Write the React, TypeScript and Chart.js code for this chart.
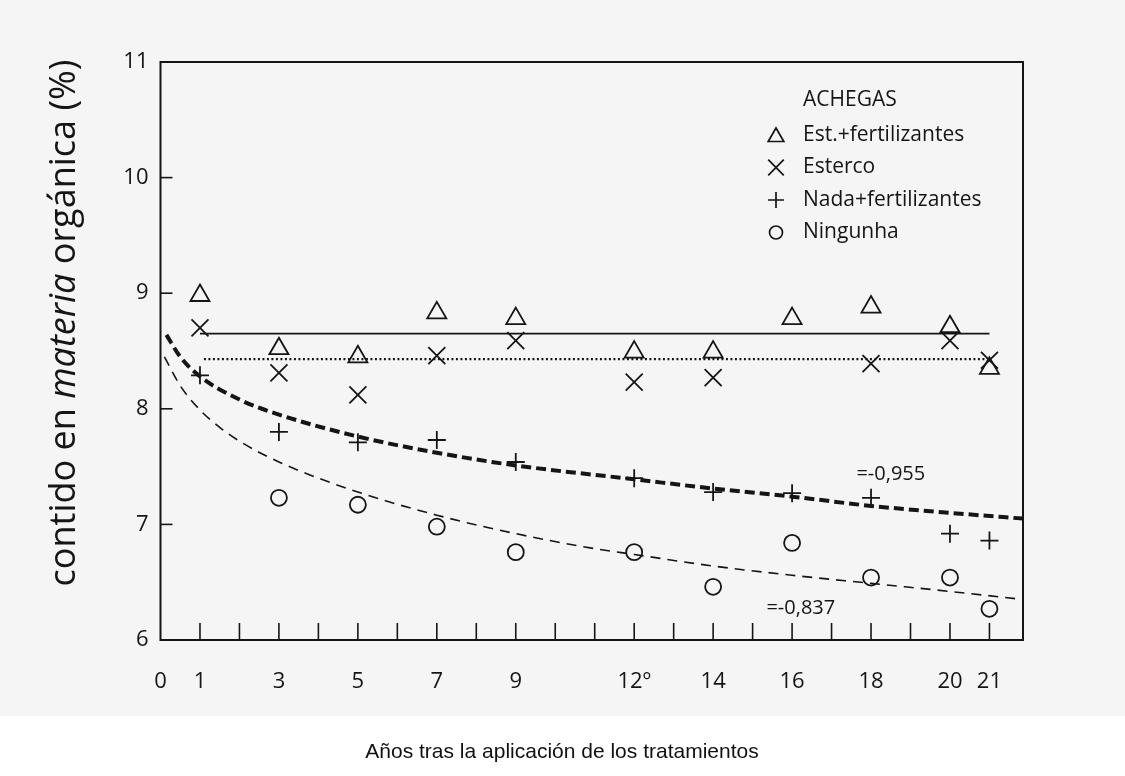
import React, { useEffect, useRef } from 'react';
import { Chart, registerables } from 'chart.js';

Chart.register(...registerables);

// ---- data ----
const estFertYears = [1, 3, 5, 7, 9, 12, 14, 16, 18, 20, 21];
const estFert = [8.98, 8.52, 8.45, 8.83, 8.78, 8.49, 8.49, 8.78, 8.88, 8.71, 8.35];

const estercoYears = [1, 3, 5, 7, 9, 12, 14, 18, 20, 21];
const esterco = [8.7, 8.31, 8.12, 8.46, 8.59, 8.23, 8.27, 8.39, 8.59, 8.42];

const nadaYears = [1, 3, 5, 7, 9, 12, 14, 16, 18, 20, 21];
const nadaFert = [8.29, 7.8, 7.71, 7.73, 7.54, 7.4, 7.28, 7.27, 7.23, 6.92, 6.86];

const ningunhaYears = [3, 5, 7, 9, 12, 14, 16, 18, 20, 21];
const ningunha = [7.23, 7.17, 6.98, 6.76, 6.76, 6.46, 6.84, 6.54, 6.54, 6.27];

// fitted lines
const fitEstYears = [1, 21];
const fitEst = [8.65, 8.65];
const fitEstercoYears = [1.1, 21];
const fitEsterco = [8.43, 8.43];
const fitNadaYears = [0.15, 0.5, 1, 2, 3, 5, 7, 9, 12, 14, 16, 18, 20, 21.85];
const fitNada = [8.64, 8.45, 8.28, 8.08, 7.95, 7.76, 7.62, 7.51, 7.39, 7.31, 7.24, 7.16, 7.1, 7.05];
const fitNingYears = [0.1, 0.5, 1, 1.5, 2, 3, 5, 7, 9, 11, 12, 14, 16, 18, 20, 21.85];
const fitNing = [8.45, 8.2, 7.99, 7.84, 7.72, 7.54, 7.28, 7.08, 6.92, 6.79, 6.74, 6.64, 6.56, 6.49, 6.42, 6.35];

// axis ticks
const xTickValues = [0, 1, 3, 5, 7, 9, 12, 14, 16, 18, 20, 21];
const xTickLabels = ['0', '1', '3', '5', '7', '9', '12º', '14', '16', '18', '20', '21'];
const xTickMarkYears = [1, 2, 3, 4, 5, 6, 7, 8, 9, 10, 11, 12, 13, 14, 15, 16, 17, 18, 19, 20, 21];
const yTickMarkValues = [7, 8, 9, 10];

// texts
const legendTitle = 'ACHEGAS';
const legendLabels = ['Est.+fertilizantes', 'Esterco', 'Nada+fertilizantes', 'Ningunha'];
const legendStyles = ['triangle', 'crossRot', 'cross', 'circle'];
const yTitleParts = [
  { text: 'contido en ', italic: false },
  { text: 'materia', italic: true },
  { text: ' orgánica (%)', italic: false },
];
const xTitle = 'Años tras la aplicación de los tratamientos';
const annotations = [
  { text: '=-0,955', x: 17.63, y: 7.43 },
  { text: '=-0,837', x: 15.35, y: 6.27 },
];

const INK = '#151515';
const FONT = '"Open Sans", "DejaVu Sans", sans-serif';

const pts = (xs: number[], ys: number[]) => xs.map((x, i) => ({ x, y: ys[i] }));

function drawMarker(ctx: CanvasRenderingContext2D, style: string, x: number, y: number, r: number) {
  ctx.beginPath();
  if (style === 'triangle') {
    let rad = 0;
    ctx.moveTo(x + Math.sin(rad) * r, y - Math.cos(rad) * r);
    rad += (2 * Math.PI) / 3;
    ctx.lineTo(x + Math.sin(rad) * r, y - Math.cos(rad) * r);
    rad += (2 * Math.PI) / 3;
    ctx.lineTo(x + Math.sin(rad) * r, y - Math.cos(rad) * r);
    ctx.closePath();
  } else if (style === 'crossRot') {
    const o = r * Math.SQRT1_2;
    ctx.moveTo(x - o, y - o);
    ctx.lineTo(x + o, y + o);
    ctx.moveTo(x - o, y + o);
    ctx.lineTo(x + o, y - o);
  } else if (style === 'cross') {
    ctx.moveTo(x - r, y);
    ctx.lineTo(x + r, y);
    ctx.moveTo(x, y - r);
    ctx.lineTo(x, y + r);
  } else {
    ctx.arc(x, y, r, 0, Math.PI * 2);
  }
  ctx.stroke();
}

const decorPlugin = {
  id: 'decor',
  beforeDraw(chart: any) {
    const { ctx, width, height } = chart;
    ctx.save();
    ctx.fillStyle = '#ffffff';
    ctx.fillRect(0, 0, width, height);
    ctx.fillStyle = '#f5f5f5';
    ctx.fillRect(0, 0, width, 716);
    ctx.restore();
  },
  afterDatasetsDraw(chart: any) {
    const { ctx, chartArea } = chart;
    const xs = chart.scales.x;
    const ys = chart.scales.y;
    ctx.save();
    ctx.strokeStyle = INK;
    ctx.lineWidth = 2;
    ctx.strokeRect(chartArea.left, chartArea.top, chartArea.right - chartArea.left, chartArea.bottom - chartArea.top);
    // x tick marks (inside, upward)
    ctx.lineWidth = 1.6;
    xTickMarkYears.forEach((v) => {
      const px = xs.getPixelForValue(v);
      ctx.beginPath();
      ctx.moveTo(px, chartArea.bottom);
      ctx.lineTo(px, chartArea.bottom - 17);
      ctx.stroke();
    });
    // y tick marks (inside, rightward)
    yTickMarkValues.forEach((v) => {
      const py = ys.getPixelForValue(v);
      ctx.beginPath();
      ctx.moveTo(chartArea.left, py);
      ctx.lineTo(chartArea.left + 12, py);
      ctx.stroke();
    });

    // legend
    ctx.fillStyle = INK;
    ctx.textBaseline = 'middle';
    ctx.textAlign = 'left';
    ctx.font = `21px ${FONT}`;
    ctx.fillText(legendTitle, 803, 100);
    ctx.lineWidth = 1.7;
    legendLabels.forEach((lab, i) => {
      const y = 135 + i * 32.5;
      const st = legendStyles[i];
      const r = st === 'triangle' ? 9 : st === 'crossRot' ? 11 : st === 'cross' ? 8 : 6.5;
      drawMarker(ctx, st, 776, y + (st === 'triangle' ? 2 : 0), r);
      ctx.fillText(lab, 803, y);
    });

    // annotations
    ctx.font = `20px ${FONT}`;
    annotations.forEach((a) => {
      ctx.fillText(a.text, xs.getPixelForValue(a.x), ys.getPixelForValue(a.y));
    });

    // y title (rotated, mixed italic)
    ctx.save();
    ctx.translate(75, 323);
    ctx.rotate(-Math.PI / 2);
    ctx.textBaseline = 'alphabetic';
    const size = 36;
    let total = 0;
    const widths = yTitleParts.map((p) => {
      ctx.font = `${p.italic ? 'italic ' : ''}${size}px ${FONT}`;
      const w = ctx.measureText(p.text).width;
      total += w;
      return w;
    });
    let cx = -total / 2;
    yTitleParts.forEach((p, i) => {
      ctx.font = `${p.italic ? 'italic ' : ''}${size}px ${FONT}`;
      ctx.fillText(p.text, cx, 0);
      cx += widths[i];
    });
    ctx.restore();

    // x title
    ctx.font = `21px "Liberation Sans", Arial, sans-serif`;
    ctx.textAlign = 'center';
    ctx.textBaseline = 'middle';
    ctx.fillStyle = '#111';
    ctx.fillText(xTitle, 562, 752);
    ctx.restore();
  },
};

export default function App() {
  const ref = useRef<HTMLCanvasElement | null>(null);

  useEffect(() => {
    if (!ref.current) return;
    const markerBase = {
      type: 'scatter' as const,
      showLine: false,
      borderColor: INK,
      backgroundColor: 'transparent',
      pointBorderWidth: 1.8,
      pointBackgroundColor: 'transparent',
      pointBorderColor: INK,
    };
    const lineBase = {
      type: 'line' as const,
      borderColor: INK,
      pointRadius: 0,
      fill: false,
      cubicInterpolationMode: 'monotone' as const,
    };
    const chart = new Chart(ref.current, {
      type: 'scatter',
      data: {
        datasets: [
          { ...lineBase, label: 'fit Est.', data: pts(fitEstYears, fitEst), borderWidth: 1.8 },
          { ...lineBase, label: 'fit Esterco', data: pts(fitEstercoYears, fitEsterco), borderWidth: 2.2, borderDash: [2, 2.5] },
          { ...lineBase, label: 'fit Nada', data: pts(fitNadaYears, fitNada), borderWidth: 4, borderDash: [10, 5] },
          { ...lineBase, label: 'fit Ningunha', data: pts(fitNingYears, fitNing), borderWidth: 1.6, borderDash: [10, 7] },
          { ...markerBase, label: legendLabels[0], data: pts(estFertYears, estFert), pointStyle: 'triangle', pointRadius: 11 },
          { ...markerBase, label: legendLabels[1], data: pts(estercoYears, esterco), pointStyle: 'crossRot', pointRadius: 12 },
          { ...markerBase, label: legendLabels[2], data: pts(nadaYears, nadaFert), pointStyle: 'cross', pointRadius: 9 },
          { ...markerBase, label: legendLabels[3], data: pts(ningunhaYears, ningunha), pointStyle: 'circle', pointRadius: 8 },
        ] as any,
      },
      options: {
        responsive: false,
        animation: false,
        devicePixelRatio: 1,
        layout: { padding: { left: 0, top: 62, right: 102, bottom: 0 } },
        plugins: { legend: { display: false }, tooltip: { enabled: false } },
        scales: {
          x: {
            type: 'linear',
            min: 0,
            max: 21.85,
            grid: { display: false, drawTicks: false },
            border: { display: false },
            afterBuildTicks: (scale: any) => {
              scale.ticks = xTickValues.map((v) => ({ value: v }));
            },
            afterFit: (scale: any) => {
              scale.height = 136;
            },
            ticks: {
              autoSkip: false,
              maxRotation: 0,
              padding: 29,
              color: INK,
              font: { family: FONT, size: 22 },
              callback: (v: any) => {
                const i = xTickValues.indexOf(Number(v));
                return i >= 0 ? xTickLabels[i] : '';
              },
            },
          },
          y: {
            type: 'linear',
            min: 6,
            max: 11,
            grid: { display: false, drawTicks: false },
            border: { display: false },
            afterFit: (scale: any) => {
              scale.width = 160.5;
            },
            ticks: {
              stepSize: 1,
              padding: 12,
              color: INK,
              font: { family: FONT, size: 22 },
            },
          },
        },
      },
      plugins: [decorPlugin],
    });
    return () => chart.destroy();
  }, []);

  return (
    <div style={{ position: 'absolute', left: 0, top: 0, width: 1125, height: 776 }}>
      <canvas ref={ref} width={1125} height={776} style={{ display: 'block', width: 1125, height: 776 }} />
    </div>
  );
}
